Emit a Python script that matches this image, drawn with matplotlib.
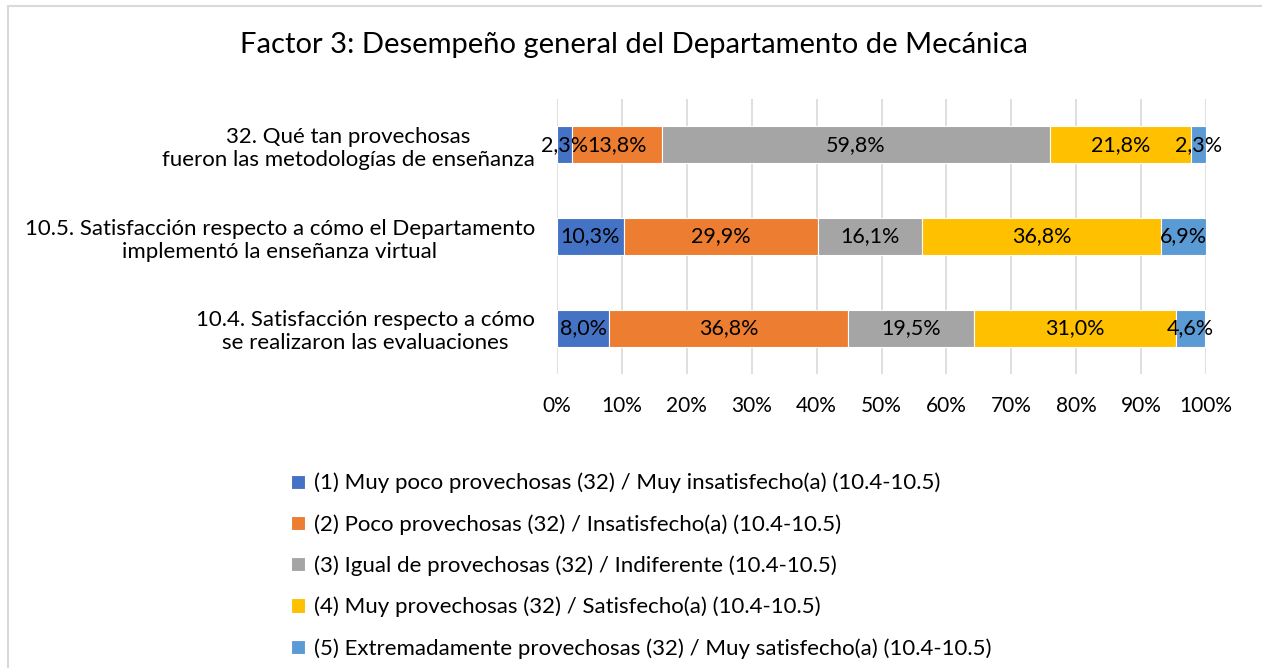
import numpy as np
import matplotlib.pyplot as plt
from matplotlib.patches import Rectangle

plt.rcParams['font.family'] = ['Lato', 'DejaVu Sans']

questions = ['32. Qué tan provechosas\nfueron las metodologías de enseñanza',
             '10.5. Satisfacción respecto a cómo el Departamento\nimplementó la enseñanza virtual',
             '10.4. Satisfacción respecto a cómo\nse realizaron las evaluaciones']
series = ['(1) Muy poco provechosas (32) / Muy insatisfecho(a) (10.4-10.5)',
          '(2) Poco provechosas (32) / Insatisfecho(a) (10.4-10.5)',
          '(3) Igual de provechosas (32) / Indiferente (10.4-10.5)',
          '(4) Muy provechosas (32) / Satisfecho(a) (10.4-10.5)',
          '(5) Extremadamente provechosas (32) / Muy satisfecho(a) (10.4-10.5)']
s1 = [2.3, 10.3, 8.0]
s2 = [13.8, 29.9, 36.8]
s3 = [59.8, 16.1, 19.5]
s4 = [21.8, 36.8, 31.0]
s5 = [2.3, 6.9, 4.6]
colors = ['#4472C4', '#ED7D31', '#A5A5A5', '#FFC000', '#5B9BD5']

fig = plt.figure(figsize=(12.62, 6.68), dpi=100)
ax = fig.add_axes([0.4414, 0.4401, 0.5143, 0.4117])

# outer frame
fig.patches.append(Rectangle((0.0063, -0.1), 1.5, 1.091, transform=fig.transFigure,
                             fill=False, edgecolor='#D9D9D9', linewidth=1.5))

y = np.arange(len(questions))
left = np.zeros(len(questions))
for vals, name, c in zip([s1, s2, s3, s4, s5], series, colors):
    vals = np.array(vals)
    ax.barh(y, vals, left=left, height=0.4, color=c, edgecolor='white',
            linewidth=0.8, label=name, zorder=3)
    for xi, yi, v in zip(left + vals / 2, y, vals):
        ax.text(xi, yi, f'{v:.1f}%'.replace('.', ','), ha='center', va='center',
                fontsize=15.5, color='black', zorder=4)
    left += vals

ax.set_xlim(0, 100)
ax.set_ylim(len(questions) - 0.5, -0.5)
ax.set_xticks(np.arange(0, 101, 10))
ax.set_xticklabels([f'{t}%' for t in range(0, 101, 10)])
ax.set_yticks(y)
ax.set_yticklabels(questions, multialignment='center')
ax.tick_params(axis='x', length=0, labelsize=15, colors='black', pad=16)
ax.tick_params(axis='y', length=0, labelsize=16, colors='black', pad=16)
ax.grid(axis='x', color='#D9D9D9', linewidth=1.2, zorder=0)
for sp in ax.spines.values():
    sp.set_visible(False)

fig.text(0.502, 0.932, 'Factor 3: Desempeño general del Departamento de Mecánica',
         ha='center', va='center', fontsize=21)

fig.legend(loc='upper left', bbox_to_anchor=(0.215, 0.322), frameon=False,
           fontsize=16, handlelength=0.6, handleheight=0.6, handletextpad=0.4,
           labelspacing=0.93)

fig.savefig('out.png', dpi=100)
